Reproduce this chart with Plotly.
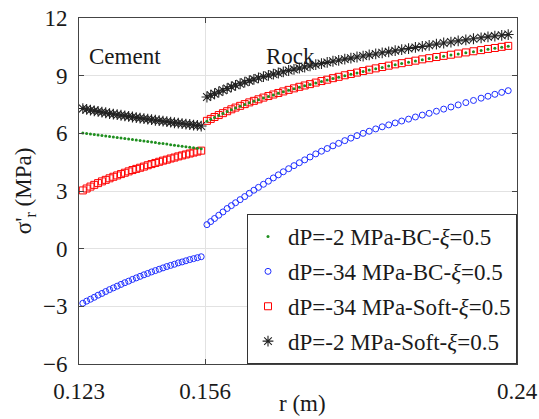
import plotly.graph_objects as go

# radial positions (m)
r_cement = [0.124, 0.125, 0.126, 0.127, 0.128, 0.129, 0.130, 0.131, 0.132, 0.133,
            0.134, 0.135, 0.136, 0.137, 0.138, 0.139, 0.140, 0.141, 0.142, 0.143,
            0.144, 0.145, 0.146, 0.147, 0.148, 0.149, 0.150, 0.151, 0.152, 0.153,
            0.154, 0.155]
r_rock = [0.1565, 0.1575, 0.1585, 0.1596, 0.1607, 0.1618, 0.1629, 0.1640, 0.1652, 0.1664,
          0.1676, 0.1688, 0.1700, 0.1713, 0.1726, 0.1739, 0.1752, 0.1765, 0.1779, 0.1793,
          0.1807, 0.1821, 0.1835, 0.1850, 0.1865, 0.1880, 0.1895, 0.1910, 0.1926, 0.1942,
          0.1958, 0.1974, 0.1990, 0.2007, 0.2024, 0.2041, 0.2058, 0.2075, 0.2093, 0.2111,
          0.2129, 0.2147, 0.2166, 0.2185, 0.2204, 0.2223, 0.2243, 0.2263, 0.2283, 0.2301,
          0.2319, 0.2337, 0.2354]

# dP=-2 MPa-BC
bc2_cement = [6.02, 5.99, 5.97, 5.94, 5.91, 5.89, 5.86, 5.83, 5.81, 5.78,
              5.76, 5.73, 5.70, 5.68, 5.65, 5.63, 5.60, 5.57, 5.55, 5.52,
              5.49, 5.47, 5.44, 5.41, 5.38, 5.36, 5.33, 5.30, 5.28, 5.25,
              5.23, 5.20]
bc2_rock = [6.63, 6.73, 6.83, 6.93, 7.03, 7.13, 7.23, 7.32, 7.41, 7.50,
            7.59, 7.67, 7.75, 7.84, 7.92, 8.00, 8.08, 8.16, 8.24, 8.32,
            8.40, 8.47, 8.54, 8.62, 8.70, 8.77, 8.85, 8.92, 9.00, 9.07,
            9.14, 9.22, 9.29, 9.36, 9.43, 9.50, 9.57, 9.63, 9.70, 9.76,
            9.83, 9.89, 9.95, 10.01, 10.07, 10.13, 10.19, 10.25, 10.31, 10.37,
            10.42, 10.48, 10.53]

# dP=-34 MPa-BC
bc34_cement = [-2.84, -2.73, -2.63, -2.53, -2.42, -2.33, -2.23, -2.13, -2.04, -1.95,
               -1.86, -1.77, -1.69, -1.60, -1.52, -1.44, -1.36, -1.29, -1.21, -1.14,
               -1.07, -1.00, -0.93, -0.87, -0.81, -0.74, -0.69, -0.63, -0.57, -0.52,
               -0.47, -0.42]
bc34_rock = [1.25, 1.41, 1.57, 1.74, 1.91, 2.09, 2.24, 2.39, 2.55, 2.71,
             2.88, 3.04, 3.19, 3.35, 3.51, 3.68, 3.84, 4.00, 4.16, 4.32,
             4.47, 4.62, 4.77, 4.93, 5.07, 5.21, 5.35, 5.48, 5.62, 5.75,
             5.88, 6.00, 6.11, 6.23, 6.34, 6.44, 6.54, 6.64, 6.74, 6.85,
             6.95, 7.04, 7.15, 7.26, 7.37, 7.48, 7.60, 7.71, 7.83, 7.93,
             8.03, 8.13, 8.22]

# dP=-34 MPa-Soft
soft34_cement = [3.03, 3.13, 3.23, 3.32, 3.41, 3.50, 3.58, 3.66, 3.74, 3.81,
                 3.88, 3.95, 4.02, 4.09, 4.15, 4.21, 4.27, 4.34, 4.40, 4.46,
                 4.52, 4.58, 4.63, 4.69, 4.74, 4.80, 4.85, 4.90, 4.95, 5.00,
                 5.05, 5.10]
soft34_rock = [6.65, 6.75, 6.85, 6.95, 7.05, 7.15, 7.25, 7.34, 7.43, 7.52,
               7.61, 7.69, 7.77, 7.86, 7.94, 8.02, 8.10, 8.18, 8.26, 8.34,
               8.42, 8.49, 8.56, 8.64, 8.72, 8.79, 8.87, 8.94, 9.02, 9.09,
               9.16, 9.24, 9.31, 9.38, 9.45, 9.52, 9.59, 9.65, 9.72, 9.78,
               9.85, 9.91, 9.97, 10.03, 10.09, 10.15, 10.21, 10.27, 10.33, 10.39,
               10.44, 10.50, 10.55]

# dP=-2 MPa-Soft
soft2_cement = [7.29, 7.25, 7.21, 7.17, 7.14, 7.10, 7.07, 7.03, 7.00, 6.97,
                6.94, 6.91, 6.88, 6.85, 6.82, 6.79, 6.76, 6.74, 6.71, 6.68,
                6.66, 6.63, 6.61, 6.58, 6.55, 6.53, 6.51, 6.48, 6.46, 6.43,
                6.41, 6.38]
soft2_rock = [7.89, 7.98, 8.06, 8.15, 8.24, 8.33, 8.42, 8.50, 8.58, 8.66,
              8.74, 8.81, 8.88, 8.95, 9.02, 9.08, 9.14, 9.20, 9.27, 9.33,
              9.39, 9.45, 9.51, 9.57, 9.63, 9.69, 9.75, 9.80, 9.86, 9.91,
              9.97, 10.02, 10.08, 10.13, 10.19, 10.24, 10.30, 10.35, 10.41, 10.47,
              10.52, 10.58, 10.64, 10.70, 10.75, 10.81, 10.86, 10.92, 10.97, 11.02,
              11.06, 11.10, 11.14]

x_tickvals = [0.123, 0.156, 0.2377]
x_ticktext = ["0.123", "0.156", "0.24"]
y_tickvals = [-6, -3, 0, 3, 6, 9, 12]

names = {
    "bc2": "dP=-2 MPa-BC-<i>ξ</i>=0.5",
    "bc34": "dP=-34 MPa-BC-<i>ξ</i>=0.5",
    "soft34": "dP=-34 MPa-Soft-<i>ξ</i>=0.5",
    "soft2": "dP=-2 MPa-Soft-<i>ξ</i>=0.5",
}

r_all = r_cement + r_rock
fig = go.Figure()

fig.add_trace(go.Scatter(
    x=r_all, y=bc34_cement + bc34_rock, mode="markers", name=names["bc34"],
    legendgroup="b", legendrank=2,
    marker=dict(symbol="circle-open", size=6, color="#1f2fff", line=dict(width=1))))
fig.add_trace(go.Scatter(
    x=r_all, y=soft34_cement + soft34_rock, mode="markers", name=names["soft34"],
    legendgroup="c", legendrank=3,
    marker=dict(symbol="square-open", size=7, color="#ff0000", line=dict(width=1))))
fig.add_trace(go.Scatter(
    x=r_all, y=soft2_cement + soft2_rock, mode="markers", name=names["soft2"],
    legendgroup="d", legendrank=4,
    marker=dict(symbol="asterisk-open", size=9, color="#222222",
                line=dict(width=1.1, color="#222222"))))
fig.add_trace(go.Scatter(
    x=r_all, y=bc2_cement + bc2_rock, mode="markers", name=names["bc2"],
    legendgroup="a", legendrank=1,
    marker=dict(symbol="circle", size=3, color="#1f8f1f")))

axis_common = dict(
    showgrid=True, gridcolor="#e2e2e2", gridwidth=1,
    ticks="inside", ticklen=5, tickcolor="#444444", tickwidth=1,
    showline=True, linecolor="#444444", linewidth=1, mirror="ticks",
    zeroline=False, automargin=False,
)

fig.update_xaxes(range=[0.123, 0.2377], tickvals=x_tickvals, ticktext=x_ticktext,
                 ticklabelstandoff=6, **axis_common)
fig.update_yaxes(range=[-6, 12], tickvals=y_tickvals, ticklabelstandoff=6, **axis_common)

fig.update_layout(
    width=539, height=419,
    margin=dict(l=79, r=22, t=18, b=55, autoexpand=False),
    paper_bgcolor="white", plot_bgcolor="white",
    font=dict(family="Liberation Serif", size=23, color="#1a1a1a"),
    legend=dict(x=1, y=0, xanchor="right", yanchor="bottom",
                bgcolor="white", bordercolor="#333333", borderwidth=1,
                tracegroupgap=2, font=dict(size=23)),
    annotations=[
        dict(x=0.1350, y=10.02, xref="x", yref="y", text="Cement", showarrow=False,
             font=dict(size=23)),
        dict(x=0.1785, y=10.0, xref="x", yref="y", text="Rock", showarrow=False,
             font=dict(size=23)),
        dict(x=0.51, y=-0.113, xref="paper", yref="paper", text="r (m)", showarrow=False,
             xanchor="center", yanchor="middle", font=dict(size=23)),
        dict(x=-0.123, y=0.5, xref="paper", yref="paper", text="σ'<sub>r</sub> (MPa)",
             showarrow=False, textangle=-90, xanchor="center", yanchor="middle",
             font=dict(size=23)),
    ],
)

fig.write_html("out.html", config={"displayModeBar": False},
               post_script="document.body.style.margin='0';document.body.style.padding='0';")
